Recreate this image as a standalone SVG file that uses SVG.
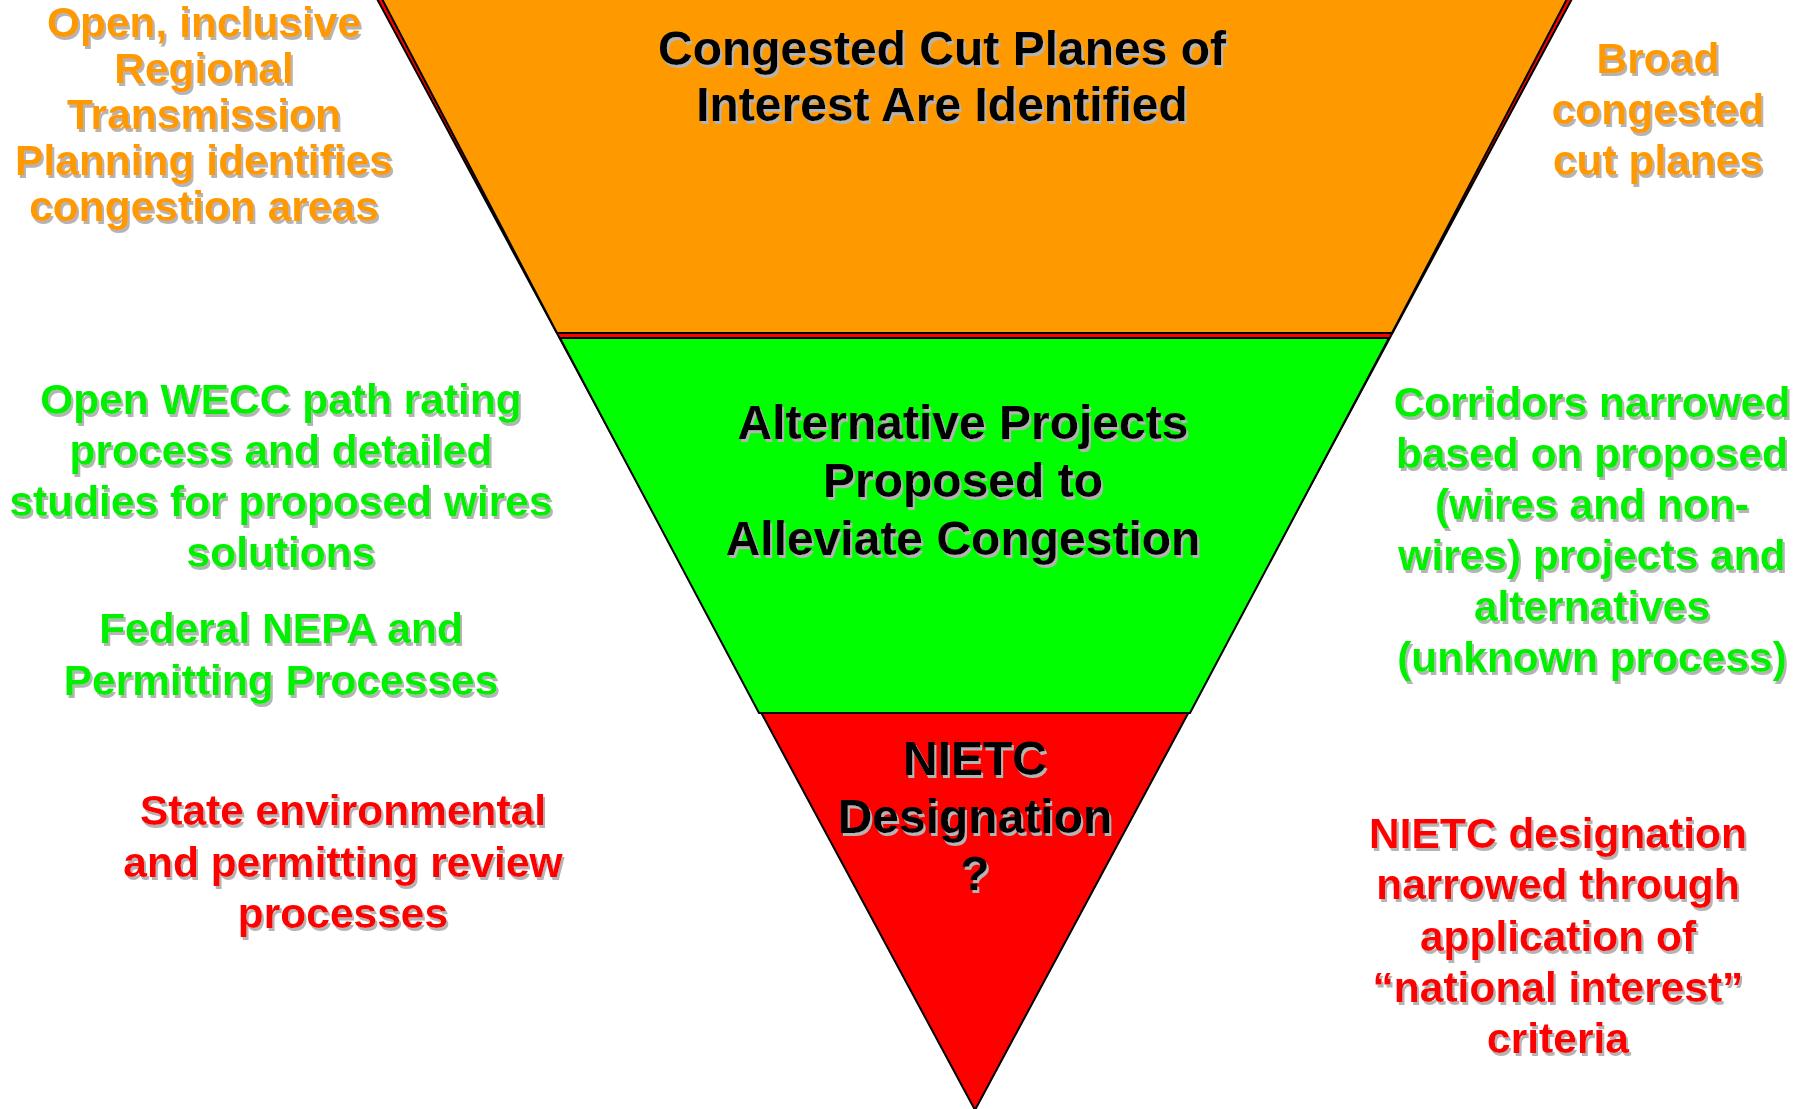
<svg xmlns="http://www.w3.org/2000/svg" width="1809" height="1109" viewBox="0 0 1809 1109">
<style>
text{font-family:"Liberation Sans",Arial,sans-serif;font-weight:bold;text-anchor:middle}
.t{font-size:48px;fill:#000}
.s{font-size:42.5px}
.o{fill:#FF9900}
.g{fill:#00F000}
.r{fill:#FF0000}
.shape{stroke:#000;stroke-width:2;stroke-linejoin:miter}
</style>
<defs>
<filter id="sh" x="-5%" y="-5%" width="110%" height="115%">
<feOffset in="SourceAlpha" dx="2" dy="2.5" result="off"/>
<feFlood flood-color="#B4B4B4"/>
<feComposite in2="off" operator="in" result="shadow"/>
<feMerge><feMergeNode in="shadow"/><feMergeNode in="SourceGraphic"/></feMerge>
</filter>
</defs>
<rect width="1809" height="1109" fill="#fff"/>
<g id="funnel">
<polygon class="shape" fill="#FF0000" points="376,-3 1573,-3 975,1110"/>
</g>
<g id="stage1">
<polygon class="shape" fill="#FF9900" points="381,-3 1568,-3 1392,333 557,333"/>
<g filter="url(#sh)">
<text class="t" x="942" y="65">Congested Cut Planes of</text>
<text class="t" x="942" y="121">Interest Are Identified</text>
</g>
</g>
<g id="stage2">
<polygon class="shape" fill="#00FF00" points="560,338 1389,338 1190,713 759,713"/>
<g filter="url(#sh)">
<text class="t" x="963" y="439">Alternative Projects</text>
<text class="t" x="963" y="497">Proposed to</text>
<text class="t" x="963" y="555">Alleviate Congestion</text>
</g>
</g>
<g id="stage3">
<g filter="url(#sh)">
<text class="t" x="975" y="775">NIETC</text>
<text class="t" x="975" y="833">Designation</text>
<text class="t" x="975" y="890">?</text>
</g>
</g>
<g id="left-orange" filter="url(#sh)">
<text class="s o" x="204" y="37">Open, inclusive</text>
<text class="s o" x="204" y="83">Regional</text>
<text class="s o" x="204" y="129">Transmission</text>
<text class="s o" x="204" y="175">Planning identifies</text>
<text class="s o" x="204" y="221">congestion areas</text>
</g>
<g id="right-orange" filter="url(#sh)">
<text class="s o" x="1658" y="73">Broad</text>
<text class="s o" x="1658" y="124">congested</text>
<text class="s o" x="1658" y="175">cut planes</text>
</g>
<g id="left-green" filter="url(#sh)">
<text class="s g" x="281" y="414">Open WECC path rating</text>
<text class="s g" x="281" y="465">process and detailed</text>
<text class="s g" x="281" y="516">studies for proposed wires</text>
<text class="s g" x="281" y="567">solutions</text>
</g>
<g id="left-green-2" filter="url(#sh)">
<text class="s g" x="281" y="643">Federal NEPA and</text>
<text class="s g" x="281" y="695">Permitting Processes</text>
</g>
<g id="left-red" filter="url(#sh)">
<text class="s r" x="343" y="825">State environmental</text>
<text class="s r" x="343" y="877">and permitting review</text>
<text class="s r" x="343" y="928">processes</text>
</g>
<g id="right-green" filter="url(#sh)">
<text class="s g" x="1592" y="417">Corridors narrowed</text>
<text class="s g" x="1592" y="468">based on proposed</text>
<text class="s g" x="1592" y="519">(wires and non-</text>
<text class="s g" x="1592" y="570">wires) projects and</text>
<text class="s g" x="1592" y="621">alternatives</text>
<text class="s g" x="1592" y="672">(unknown process)</text>
</g>
<g id="right-red" filter="url(#sh)">
<text class="s r" x="1558" y="848">NIETC designation</text>
<text class="s r" x="1558" y="899">narrowed through</text>
<text class="s r" x="1558" y="951">application of</text>
<text class="s r" x="1558" y="1002">“national interest”</text>
<text class="s r" x="1558" y="1053">criteria</text>
</g>
<g id="connectors"></g>
</svg>
